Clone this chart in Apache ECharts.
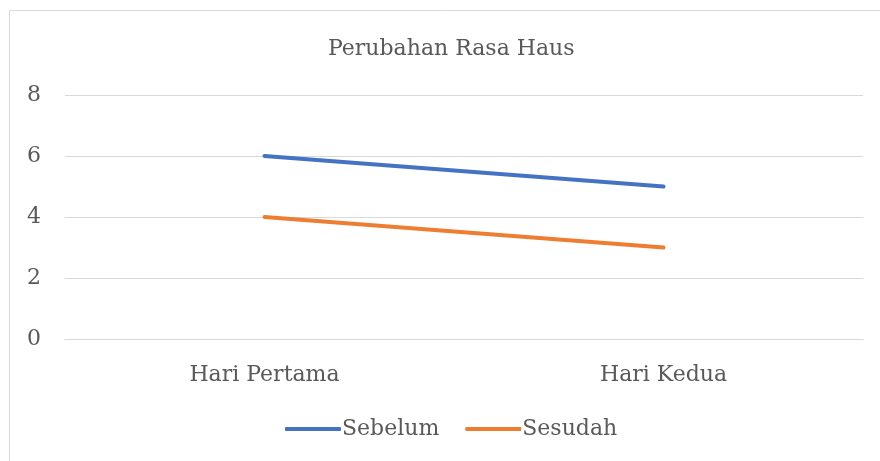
<!DOCTYPE html>
<html><head><meta charset="utf-8">
<script src="https://cdn.jsdelivr.net/npm/echarts@6/dist/echarts.min.js"></script>
<style>html,body{margin:0;padding:0;background:#fff}#c{width:880px;height:461px}</style>
</head><body><div id="c"></div>
<script>
const categories = ['Hari Pertama', 'Hari Kedua'];
const sebelum = [6, 5];
const sesudah = [4, 3];
const yTicks = [0, 2, 4, 6, 8];
const FONT = '"DejaVu Serif", serif';
const chart = echarts.init(document.getElementById('c'));
chart.setOption({
  animation: false,
  backgroundColor: '#fff',
  color: ['#4472C4', '#ED7D31'],
  title: { text: 'Perubahan Rasa Haus', left: 323, top: 33,
    textStyle: { fontFamily: FONT, fontSize: 22, fontWeight: 'normal', color: '#595959' } },
  legend: { bottom: 16, left: 280, itemWidth: 56, itemHeight: 4, itemGap: 26,
    icon: 'roundRect',
    textStyle: { fontFamily: FONT, fontSize: 22, color: '#595959', padding: [0,0,0,-4] },
    data: ['Sebelum', 'Sesudah'] },
  grid: { left: 65, right: 17, top: 95, height: 244, containLabel: false },
  graphic: [{ type: 'rect', shape: { x: 9.5, y: 10.5, width: 900, height: 500 },
    style: { fill: 'none', stroke: '#d9d9d9', lineWidth: 1 }, silent: true }],
  xAxis: { type: 'category', data: categories, boundaryGap: true,
    axisLine: { show: true, lineStyle: { color: '#d9d9d9' } }, axisTick: { show: false },
    axisLabel: { fontFamily: FONT, fontSize: 22, color: '#595959', margin: 25 } },
  yAxis: { type: 'value', min: yTicks[0], max: yTicks[yTicks.length-1], interval: 2,
    axisLine: { show: false }, axisTick: { show: false },
    splitLine: { lineStyle: { color: '#d9d9d9', width: 1 } },
    axisLabel: { fontFamily: FONT, fontSize: 22, color: '#595959', margin: 24, padding: [3,0,0,0] } },
  series: [
    { name: 'Sebelum', type: 'line', data: sebelum, symbol: 'none', lineStyle: { width: 4, cap: 'round' } },
    { name: 'Sesudah', type: 'line', data: sesudah, symbol: 'none', lineStyle: { width: 4, cap: 'round' } }
  ]
});
</script></body></html>
